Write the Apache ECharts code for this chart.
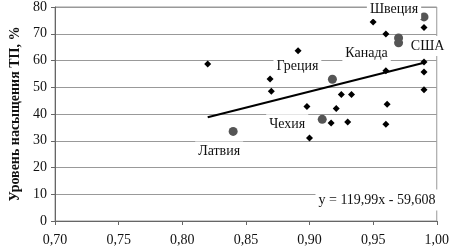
<!DOCTYPE html>
<html>
<head>
<meta charset="utf-8">
<script src="https://cdn.jsdelivr.net/npm/echarts@6/dist/echarts.min.js"></script>
<style>
  html, body { margin: 0; padding: 0; background: #fff; }
  #chart { width: 452px; height: 249px; }
</style>
</head>
<body>
<div id="chart"></div>
<script>
// country points (black diamonds)
var hdiX = [0.82, 0.869, 0.870, 0.891, 0.898, 0.900, 0.917, 0.921, 0.925, 0.933,
            0.930, 0.950, 0.960, 0.960, 0.961, 0.960, 0.990, 0.990, 0.990, 0.990];
var levelY = [58.7, 53.1, 48.5, 63.6, 42.8, 31.0, 36.6, 42.1, 47.3, 47.3,
              37.0, 74.4, 69.9, 56.2, 43.6, 36.2, 72.3, 59.4, 55.7, 49.1];

// highlighted countries (gray circles)
var namedCountries = ['Швеция', 'США', 'Канада', 'Греция', 'Чехия', 'Латвия'];
var namedX = [0.990, 0.970, 0.970, 0.918, 0.910, 0.840];
var namedY = [76.3, 68.4, 66.6, 53.0, 38.0, 33.5];
// label shift relative to the point, px
var labelShift = [[-30, -8], [29, 8], [-32, 10], [-35, -13], [-35, 5], [-14, 20]];

// trend line
var slope = 119.99, intercept = -59.608;
var trendX = [0.82, 0.99];
var eqText = 'y = 119,99x - 59,608';

var xTicks = [0.70, 0.75, 0.80, 0.85, 0.90, 0.95, 1.00];
var yTicks = [0, 10, 20, 30, 40, 50, 60, 70, 80];

var chart = echarts.init(document.getElementById('chart'), null, { renderer: 'canvas' });

var ff = '"Liberation Serif", "Times New Roman", serif';

var pts = [];
for (var i = 0; i < hdiX.length; i++) {
  pts.push([hdiX[i], levelY[i]]);
}
var named = [];
for (var j = 0; j < namedCountries.length; j++) {
  named.push({
    name: namedCountries[j],
    value: [namedX[j], namedY[j]],
    label: { offset: labelShift[j] }
  });
}
var trend = trendX.map(function (x) { return [x, slope * x + intercept]; });

var option = {
  animation: false,
  backgroundColor: '#fff',
  grid: {
    left: 44, right: 12, top: 5, bottom: 28,
    show: true, borderColor: '#999', borderWidth: 1
  },
  xAxis: {
    type: 'value',
    min: xTicks[0], max: xTicks[xTicks.length - 1], interval: 0.05,
    axisLine: { show: true, onZero: false, lineStyle: { color: '#666', width: 1 } },
    axisTick: { show: true, length: 4, lineStyle: { color: '#666' } },
    splitLine: { show: false },
    axisLabel: {
      margin: 12, color: '#111', fontFamily: ff, fontSize: 14,
      formatter: function (v) { return v.toFixed(2).replace('.', ','); }
    }
  },
  yAxis: {
    type: 'value',
    min: yTicks[0], max: yTicks[yTicks.length - 1], interval: 10,
    name: 'Уровень насыщения ТП, %',
    nameLocation: 'middle', nameGap: 33,
    nameTextStyle: { fontFamily: ff, fontSize: 14, fontWeight: 'bold', color: '#111' },
    axisLine: { show: true, lineStyle: { color: '#666', width: 1 } },
    axisTick: { show: true, length: 4, lineStyle: { color: '#666' } },
    splitLine: { show: true, lineStyle: { color: '#999', width: 1 } },
    axisLabel: { margin: 8, color: '#111', fontFamily: ff, fontSize: 14 }
  },
  series: [
    {
      type: 'line',
      data: trend,
      symbol: 'none',
      lineStyle: { color: '#000', width: 2 },
      z: 2
    },
    {
      type: 'scatter',
      data: pts,
      symbol: 'diamond',
      symbolSize: 7,
      itemStyle: { color: '#000', opacity: 1 },
      z: 3
    },
    {
      type: 'scatter',
      data: named,
      symbol: 'circle',
      symbolSize: 9,
      itemStyle: { color: '#555', opacity: 1 },
      label: {
        show: true,
        position: 'inside',
        formatter: '{b}',
        fontFamily: ff, fontSize: 14, color: '#111',
        backgroundColor: '#fff',
        padding: [3, 3, 3, 3]
      },
      z: 4
    }
  ],
  graphic: [
    {
      type: 'text',
      x: 377, y: 200, z: 10,
      style: {
        text: eqText,
        font: '14px ' + ff,
        fill: '#111',
        align: 'center', verticalAlign: 'middle',
        backgroundColor: '#fff',
        padding: [4, 3, 3, 3]
      }
    }
  ]
};

chart.setOption(option);
</script>
</body>
</html>
